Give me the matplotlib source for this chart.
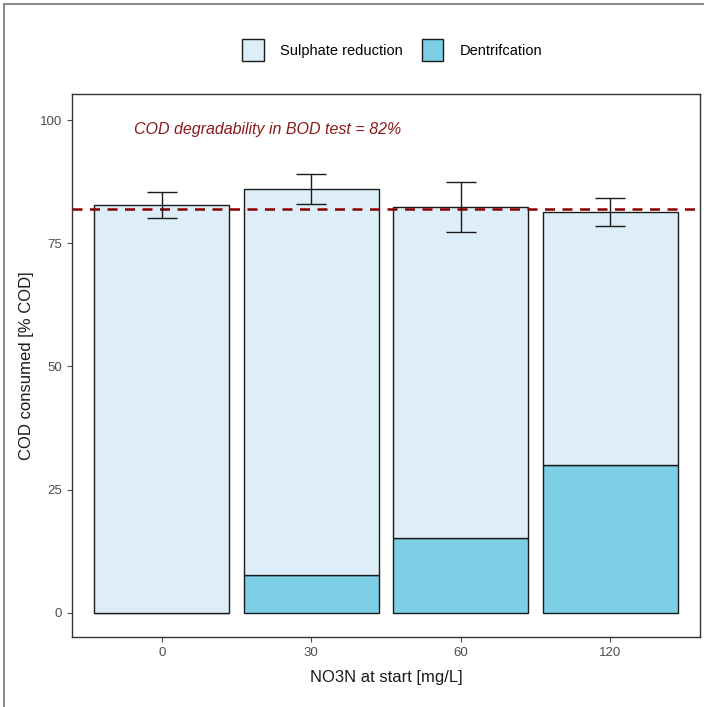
import matplotlib.pyplot as plt
from matplotlib.lines import Line2D

# data
categories = ['0', '30', '60', '120']
denitrification = [0.0, 7.6, 15.2, 30.0]
total = [82.8, 86.0, 82.4, 81.4]
total_err = [2.7, 3.0, 5.1, 2.8]
bod_level = 82
sulphate = [t - d for t, d in zip(total, denitrification)]

plt.rcParams['font.family'] = ['Liberation Sans', 'DejaVu Sans']

fig = plt.figure(figsize=(7.04, 7.07), dpi=100)
ax = fig.add_axes([72 / 704, 70 / 707, 628 / 704, 543 / 707])

x = range(len(categories))
light = '#ddeef8'
dark = '#7ccfe5'

ax.bar(x, denitrification, width=0.9, color=dark, edgecolor='#1a1a1a',
       linewidth=1.0, label='Dentrifcation', zorder=2)
ax.bar(x, sulphate, bottom=denitrification, width=0.9, color=light,
       edgecolor='#1a1a1a', linewidth=1.0, label='Sulphate reduction', zorder=2)

ax.axhline(bod_level, color='#8b0000', linestyle=(0, (4, 3)), linewidth=1.8, zorder=3)

ax.errorbar(x, total, yerr=total_err, fmt='none', ecolor='#1a1a1a',
            elinewidth=1.0, capsize=11, capthick=1.0, zorder=4)

ax.text(0.71, 98, 'COD degradability in BOD test = 82%', color='#8b1a1a',
        fontsize=11.5, style='italic', ha='center', va='center')

ax.set_xlim(-0.6, 3.6)
ax.set_ylim(-4.9, 105.3)
ax.set_xticks(list(x))
ax.set_xticklabels(categories)
ax.set_yticks([0, 25, 50, 75, 100])
ax.tick_params(colors='#4d4d4d', labelsize=9.5, length=3.5, width=0.8)
for sp in ax.spines.values():
    sp.set_color('#333333')
    sp.set_linewidth(1.0)

ax.set_xlabel('NO3N at start [mg/L]', fontsize=12, color='#1a1a1a', labelpad=8)
ax.set_ylabel('COD consumed [% COD]', fontsize=12, color='#1a1a1a', labelpad=4)

handles, labels = ax.get_legend_handles_labels()
fig.legend(handles[::-1], labels[::-1], loc='center', ncol=2,
           bbox_to_anchor=(392 / 704, 1 - 50 / 707), frameon=False,
           fontsize=10.5, handlelength=1.5, handleheight=2.0, columnspacing=1.3,
           handletextpad=1.1)

# grey frame around the picture (left and top edges)
fig.add_artist(Line2D([3.5 / 704, 3.5 / 704], [0, 1 - 3.5 / 707], color='#8c8c8c',
                      linewidth=1.5, transform=fig.transFigure))
fig.add_artist(Line2D([3.5 / 704, 1], [1 - 3.5 / 707, 1 - 3.5 / 707], color='#8c8c8c',
                      linewidth=1.5, transform=fig.transFigure))

fig.savefig('out.png', dpi=100)
